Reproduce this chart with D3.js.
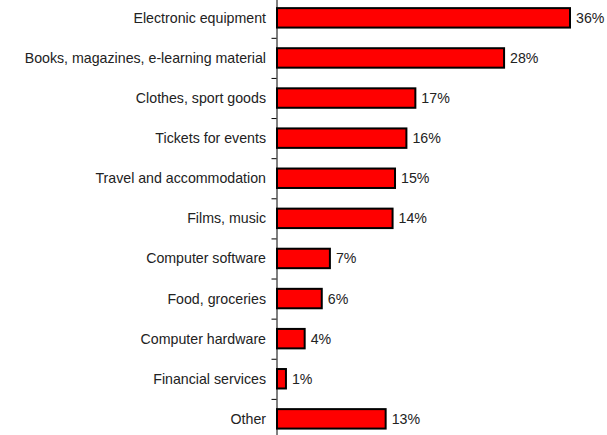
<!DOCTYPE html>
<html>
<head>
  <meta charset="utf-8">
  <style>
    body { margin: 0; background: #fff; font-family: 'Liberation Sans', Arial, sans-serif; }
    .cat { font-size: 14.2px; fill: #222; text-anchor: end; }
    .val { font-size: 14.2px; fill: #222; }
    .axis path, .axis line { stroke: #000; stroke-width: 1px; }
  </style>
</head>
<body>
  <div id="chart"></div>
  <script src="https://d3js.org/d3.v7.min.js"></script>
  <script>
    var categories = ['Electronic equipment', 'Books, magazines, e-learning material', 'Clothes, sport goods',
      'Tickets for events', 'Travel and accommodation', 'Films, music', 'Computer software',
      'Food, groceries', 'Computer hardware', 'Financial services', 'Other'];
    // bar lengths (percent)
    var shares = [36, 27.9, 17.0, 15.9, 14.5, 14.2, 6.5, 5.5, 3.4, 1.1, 13.35];
    // printed labels
    var labels = ['36%', '28%', '17%', '16%', '15%', '14%', '7%', '6%', '4%', '1%', '13%'];

    var width = 607, height = 435;
    var x0 = 277, yTop = -2.3, yBottom = 439;

    var svg = d3.select('#chart').append('svg')
      .attr('width', width)
      .attr('height', height);

    var x = d3.scaleLinear().domain([0, 36]).range([x0, 570]);

    var y = d3.scaleBand()
      .domain(categories)
      .range([yTop, yBottom])
      .paddingInner(0.515)
      .paddingOuter(0.26);

    // ticks sit on the boundaries between categories
    var yb = d3.scaleLinear().domain([0, categories.length]).range([yTop, yBottom]);

    var bars = svg.selectAll('g.bar')
      .data(categories)
      .enter().append('g')
      .attr('class', 'bar');

    bars.append('rect')
      .attr('x', x(0))
      .attr('y', function(d) { return y(d); })
      .attr('width', function(d, i) { return x(shares[i]) - x(0); })
      .attr('height', y.bandwidth())
      .style('fill', '#ff0000')
      .style('stroke', '#000')
      .style('stroke-width', 2);

    bars.append('text')
      .attr('class', 'val')
      .attr('x', function(d, i) { return x(shares[i]) + 6; })
      .attr('y', function(d) { return y(d) + y.bandwidth() / 2; })
      .attr('dy', '0.35em')
      .text(function(d, i) { return labels[i]; });

    bars.append('text')
      .attr('class', 'cat')
      .attr('x', 266)
      .attr('y', function(d) { return y(d) + y.bandwidth() / 2; })
      .attr('dy', '0.35em')
      .text(function(d) { return d; });

    svg.append('g')
      .attr('class', 'axis')
      .attr('transform', 'translate(' + (x0 - 0.5) + ',0)')
      .call(d3.axisLeft(yb).tickValues(d3.range(1, categories.length)).tickSize(5).tickSizeOuter(0).tickFormat(''));
  </script>
</body>
</html>
